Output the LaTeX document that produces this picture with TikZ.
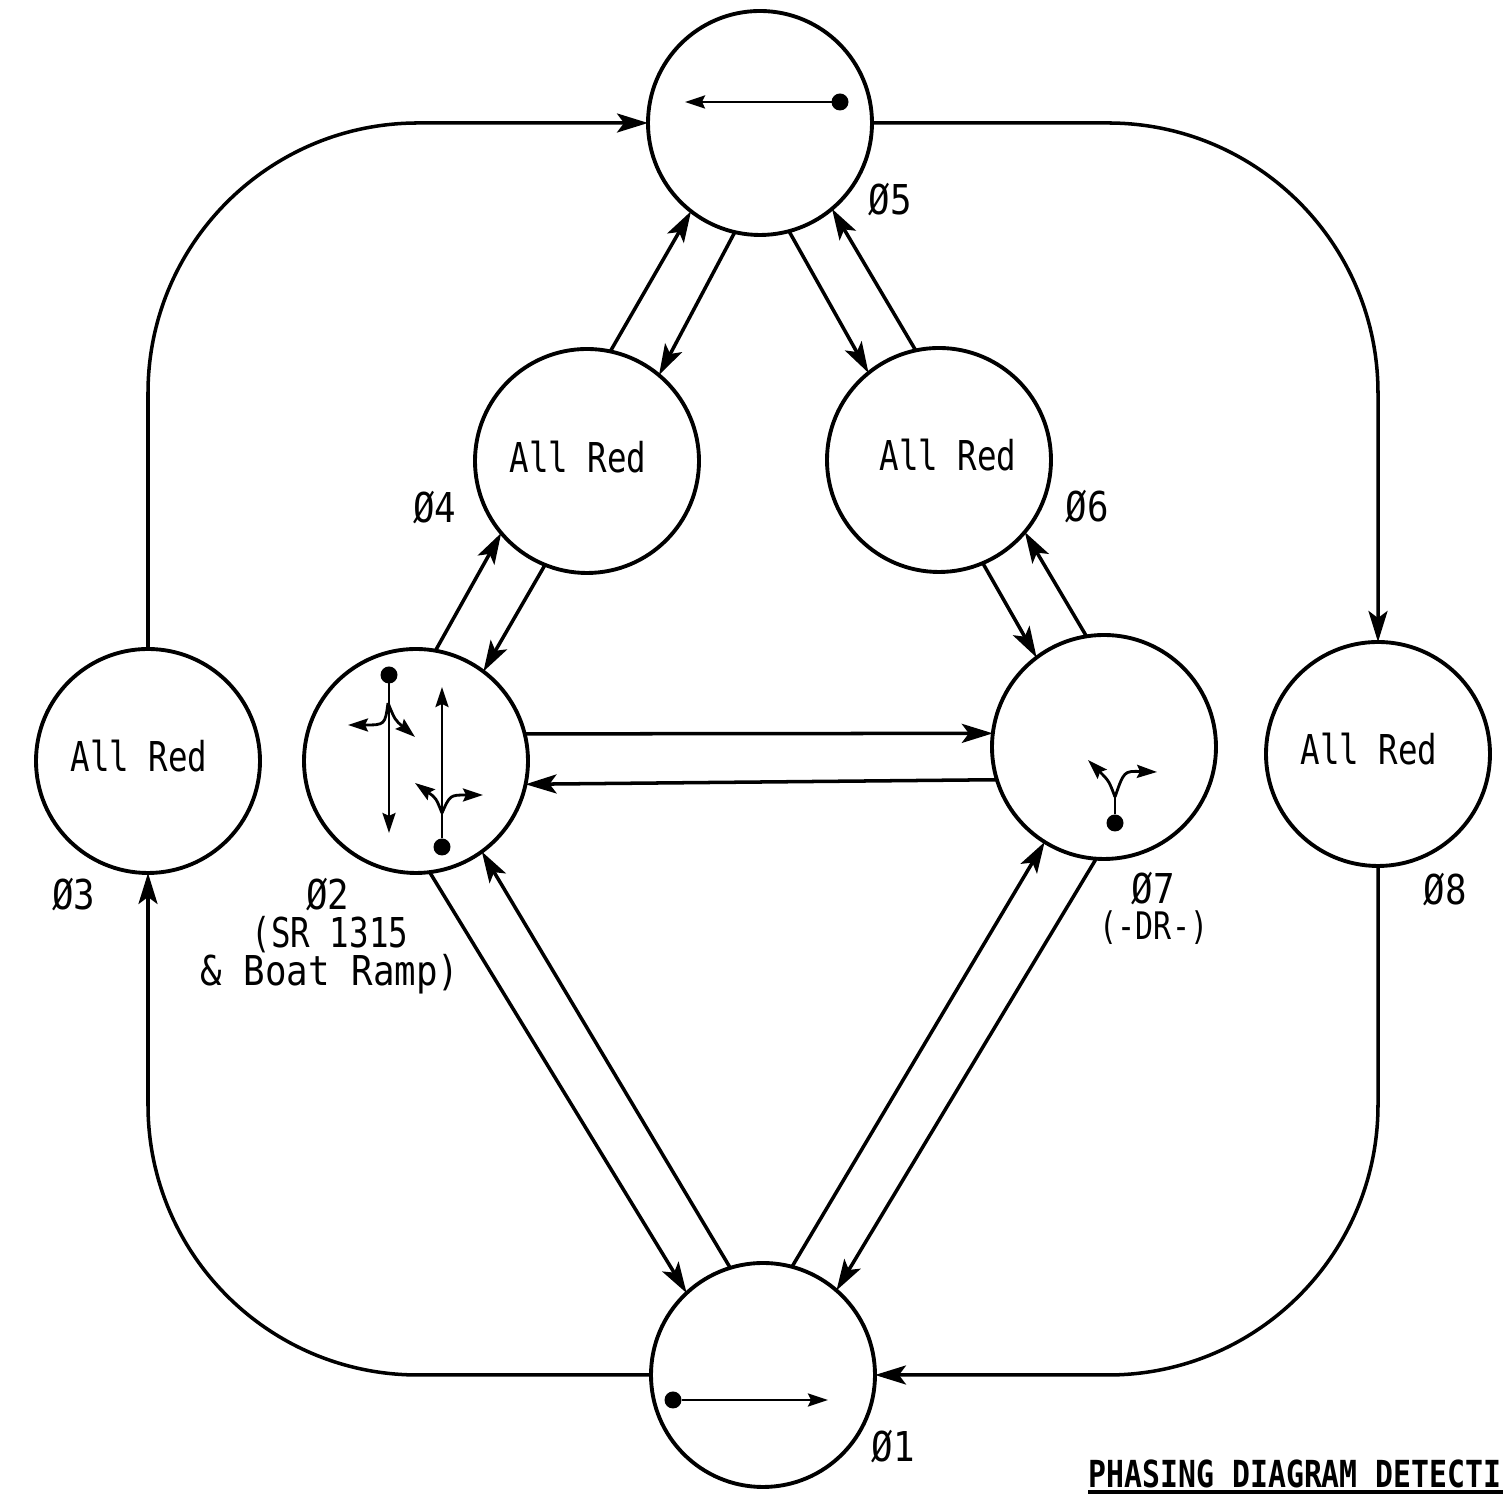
\documentclass[tikz,border=0pt]{standalone}
\usepackage{fontspec}
\usetikzlibrary{arrows.meta}
\newfontfamily\plotfont[FakeStretch=0.79]{DejaVu Sans Mono}
\newfontfamily\widefont[FakeStretch=0.87]{DejaVu Sans Mono}
\newfontfamily\titlefont[FakeStretch=0.80]{DejaVu Sans Mono Bold}
\tikzset{
	phase/.style={draw, circle, line width=1.1pt, minimum size=2.24cm, inner sep=0pt, outer sep=0pt},
	flow/.style={line width=1pt, -{Stealth[length=0.31cm, width=0.19cm, inset=0.07cm]}},
	loopflow/.style={flow, rounded corners=2.7cm},
	move/.style={line width=0.8pt, -{Stealth[length=0.2cm, width=0.13cm, inset=0.03cm]}},
	movedot/.style={circle, fill=black, minimum size=0.17cm, inner sep=0pt, outer sep=0pt},
	plot/.style={font=\plotfont\fontsize{11.7}{13}\selectfont, inner sep=0pt, align=center},
	widelabel/.style={font=\widefont\fontsize{11.7}{13}\selectfont, inner sep=0pt, align=center}
}
\def\forkmark(#1)(#2)(#3)(#4)(#5){\draw[move] (#1) .. controls (#2) .. (#3); \draw[move] (#1) .. controls (#4) .. (#5);}

\begin{document}
\begin{tikzpicture}
	%%%%% START %%%%%
	\useasboundingbox (0, 0) rectangle (15.03, 15.01);
	
	\node[phase] (p5) at (7.60, 13.78) {};
	\node[phase] (p4) at (5.87, 10.40) {};
	\node[phase] (p6) at (9.39, 10.41) {};
	\node[phase] (p2) at (4.16, 7.40) {};
	\node[phase] (p7) at (11.04, 7.54) {};
	\node[phase] (p3) at (1.48, 7.40) {};
	\node[phase] (p8) at (13.78, 7.47) {};
	\node[phase] (p1) at (7.63, 1.26) {};
	
	\draw[flow] (p4.78) -- (p5.232);
	\draw[flow] (p5.257) -- (p4.50);
	\draw[flow] (p5.285) -- (p6.129);
	\draw[flow] (p6.102) -- (p5.310);
	\draw[flow] (p2.80) -- (p4.220);
	\draw[flow] (p4.248) -- (p2.53);
	\draw[flow] (p6.293) -- (p7.127);
	\draw[flow] (p7.99) -- (p6.320);
	\draw[flow] (p2.14) -- (p7.173);
	\draw[flow] (p7.197) -- (p2.348);
	\draw[flow] (p2.277) -- (p1.133);
	\draw[flow] (p1.107) -- (p2.306);
	\draw[flow] (p1.75) -- (p7.238);
	\draw[flow] (p7.266) -- (p1.49);
	
	\draw[loopflow] (p3.north) |- (p5.west);
	\draw[loopflow] (p5.east) -| (p8.north);
	\draw[loopflow] (p1.west) -| (p3.south);
	\draw[loopflow] (p8.south) |- (p1.east);
	
	\node[plot] (red4) at (5.78, 10.44) {All Red};
	\node[plot] (red6) at (9.48, 10.46) {All Red};
	\node[plot] (red3) at (1.39, 7.45) {All Red};
	\node[plot] (red8) at (13.69, 7.52) {All Red};
	
	\node[widelabel] (lab5) at (8.90, 13.01) {Ø5};
	\node[widelabel] (lab4) at (4.35, 9.93) {Ø4};
	\node[widelabel] (lab6) at (10.87, 9.94) {Ø6};
	\node[widelabel] (lab3) at (0.74, 6.06) {Ø3};
	\node[widelabel] (lab2) at (3.28, 6.06) {Ø2};
	\node[plot] (sr) at (3.30, 5.66) {(SR 1315};
	\node[widelabel] (ramp) at (3.30, 5.27) {\& Boat Ramp)};
	\node[widelabel] (lab7) at (11.53, 6.12) {Ø7};
	\node[plot, font=\plotfont\fontsize{10.8}{13}\selectfont] (dr) at (11.54, 5.73) {(-DR-)};
	\node[widelabel] (lab8) at (14.45, 6.11) {Ø8};
	\node[widelabel] (lab1) at (8.93, 0.54) {Ø1};
	
	\node[movedot] (d5) at (8.40, 13.99) {};
	\coordinate (t5) at (6.85, 13.99);
	\draw[move] (d5) -- (t5);
	
	\node[movedot] (d1) at (6.73, 1.01) {};
	\coordinate (t1) at (8.28, 1.01);
	\draw[move] (d1) -- (t1);
	
	\node[movedot] (d2a) at (3.89, 8.26) {};
	\coordinate (t2a) at (3.89, 6.68);
	\draw[move] (d2a) -- (t2a);
	\forkmark(3.88, 7.98)(3.85, 7.76)(3.48, 7.76)(3.95, 7.81)(4.15, 7.64)
	
	\node[movedot] (d2b) at (4.42, 6.54) {};
	\coordinate (t2b) at (4.42, 8.14);
	\draw[move] (d2b) -- (t2b);
	\forkmark(4.42, 6.88)(4.36, 7.03)(4.15, 7.18)(4.50, 7.06)(4.83, 7.06)
	
	\node[movedot] (d7) at (11.15, 6.78) {};
	\coordinate (s7) at (11.15, 7.04);
	\draw[line width=0.8pt] (d7) -- (s7);
	\forkmark(11.15, 7.04)(11.09, 7.20)(10.88, 7.41)(11.24, 7.30)(11.57, 7.29)
	
	\node[anchor=base west, inner sep=0pt, font=\titlefont\fontsize{10.6}{12}\selectfont] (title) at (10.88, 0.13) {PHASING DIAGRAM DETECTI};
	\draw[line width=0.9pt] (10.88, 0.09) -- (15.03, 0.09);
	%%%%% END %%%%%
\end{tikzpicture}
\end{document}
